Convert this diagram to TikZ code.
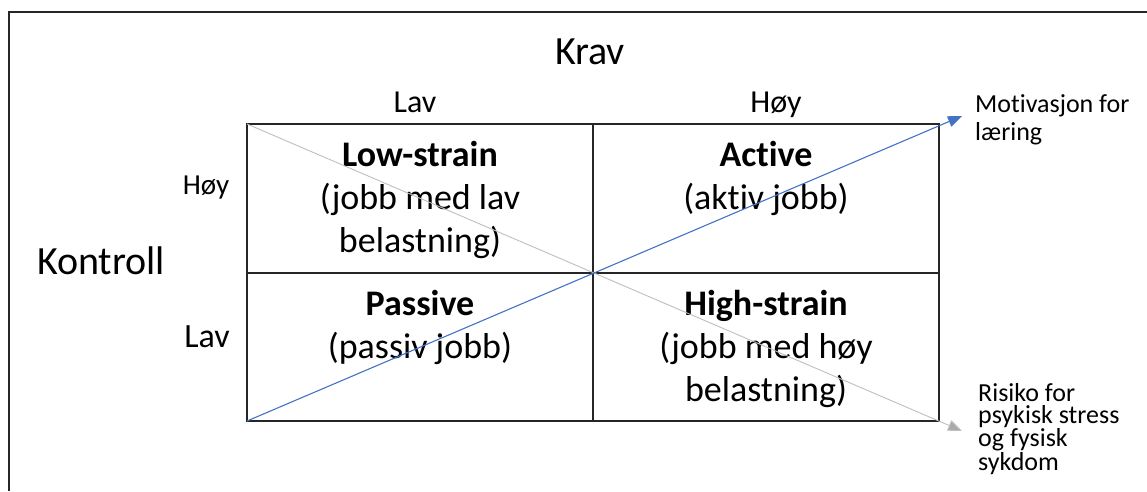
\documentclass[tikz,border=0pt]{standalone}
\usepackage{fontspec}
\setmainfont{Carlito}[Ligatures=NoCommon]
\usetikzlibrary{arrows.meta}
\begin{document}
\begin{tikzpicture}[x=1pt,y=-1pt,
  frameline/.style={line width=2pt, black!85},
  gridbox/.style={draw, line width=2pt, black!85, inner sep=0pt, outer sep=0pt},
  gridline/.style={line width=2pt, black!85},
  lbl/.style={inner sep=0pt, anchor=base, align=center},
  side/.style={inner sep=0pt, anchor=base west, align=left},
  cell/.style={lbl, font=\fontsize{36}{43}\selectfont},
  bluearrow/.style={draw=blue1, line width=1.1pt, -{Triangle[length=14pt,width=11pt]}},
  grayarrow/.style={draw=gray1, line width=0.9pt, -{Triangle[length=14pt,width=11pt,fill=gray2]}},
]
\definecolor{blue1}{RGB}{68,114,196}
\definecolor{gray1}{RGB}{190,190,190}
\definecolor{gray2}{RGB}{170,170,170}
\useasboundingbox (0,0) rectangle (1147,491);
\draw[frameline] (9,491) -- (9,12) -- (1147,12);

% grid
\node[gridbox, minimum width=692pt, minimum height=297pt] (grid) at (593,272.5) {};
\draw[gridline] (grid.north) -- (grid.south);
\draw[gridline] (grid.west) -- (grid.east);

% headers
\node[lbl, font=\fontsize{40}{48}\selectfont] (krav) at (590,64) {Krav};
\node[lbl, font=\fontsize{32}{38}\selectfont] (clav) at (415,112) {Lav};
\node[lbl, font=\fontsize{32}{38}\selectfont] (choy) at (776,112) {Høy};
\node[lbl, font=\fontsize{29}{34}\selectfont] (rhoy) at (206,194) {Høy};
\node[lbl, font=\fontsize{40}{48}\selectfont] (kontroll) at (101,274) {Kontroll};
\node[lbl, font=\fontsize{34}{40}\selectfont] (rlav) at (207,347) {Lav};

% cells (base anchor = baseline of the last line)
\node[cell] (ls) at (420,252) {\textbf{Low-strain}\\(jobb med lav\\belastning)};
\node[cell] (ac) at (766,209) {\textbf{Active}\\(aktiv jobb)};
\node[cell] (pa) at (420,358) {\textbf{Passive}\\(passiv jobb)};
\node[cell] (hs) at (766,401) {\textbf{High-strain}\\(jobb med høy\\belastning)};

% side labels
\node[side, font=\fontsize{26}{28}\selectfont] (mot) at (975,140) {Motivasjon for\\læring};
\node[side, font=\fontsize{26}{22.5}\selectfont] (ris) at (978,470) {Risiko for\\psykisk stress\\og fysisk\\sykdom};

% arrows
\coordinate (blueend) at (962,116);
\coordinate (grayend) at (962,431);
\draw[grayarrow] (grid.north west) -- (grayend);
\draw[bluearrow] (grid.south west) -- (blueend);
\end{tikzpicture}
\end{document}
